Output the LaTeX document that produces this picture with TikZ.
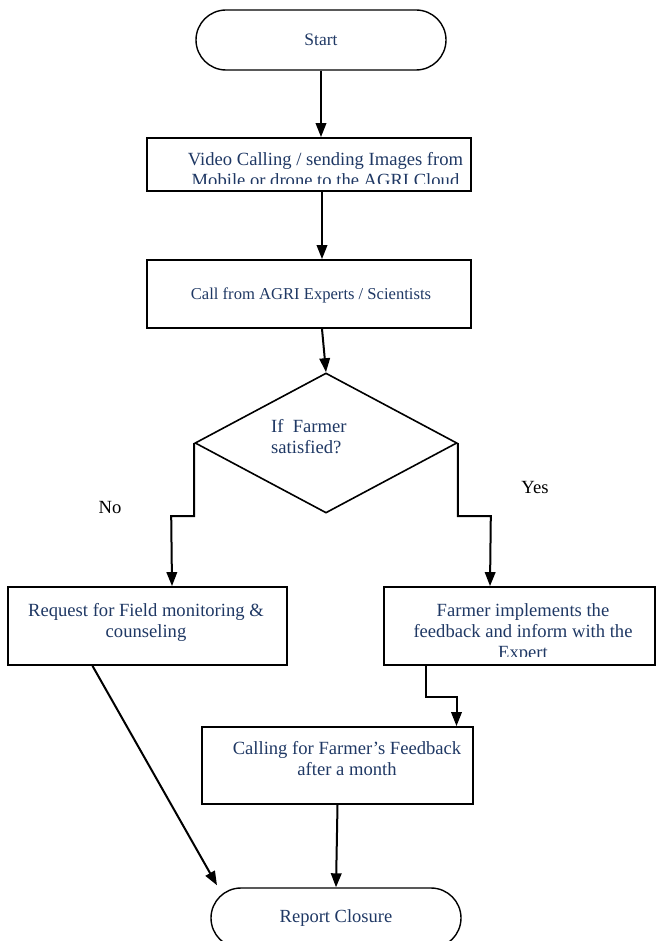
\documentclass[tikz,border=0pt]{standalone}
\usepackage{fontspec}
\setmainfont{Liberation Serif}
\usetikzlibrary{arrows.meta,shapes.geometric}
\definecolor{txt}{RGB}{31,56,100}
\begin{document}
\begin{tikzpicture}[x=1pt,y=-1pt,
  box/.style={draw,line width=1.8pt,inner sep=0pt},
  term/.style={draw,line width=1.4pt,rounded corners=30pt,inner sep=0pt,minimum width=250pt,minimum height=60pt,
    text=txt},
  lbl/.style={text=txt,font=\fontsize{18.6}{21}\selectfont,inner sep=0pt,align=center},
  arr/.style={line width=2pt,-{Triangle[width=10.5pt,length=14pt]}},
  plain/.style={text=black,font=\fontsize{18.6}{21}\selectfont,inner sep=0pt}]
\useasboundingbox (0,0) rectangle (657,941);
\clip (0,0) rectangle (657,941);
% terminals
\node[term,font=\fontsize{17.5}{21}\selectfont] (start) at (321,40) {Start};
\node[term,font=\fontsize{18.5}{21}\selectfont] (rep) at (336,918) {Report Closure};
% boxes
\node[box,minimum width=324pt,minimum height=53pt] (b2) at (309,164.5) {};
\node[box,minimum width=324pt,minimum height=68pt] (b3) at (309,294) {};
\node[box,minimum width=279pt,minimum height=78pt] (b4) at (147.5,626) {};
\node[box,minimum width=271pt,minimum height=78pt] (b5) at (519.5,626) {};
\node[box,minimum width=271pt,minimum height=77pt] (b6) at (337.5,765.5) {};
\node[diamond,draw,line width=1.6pt,inner sep=0pt,minimum width=262pt,minimum height=140pt] (dia) at (326,443) {};
% texts
\begin{scope}
\clip (147,138) rectangle (471,184);
\node[lbl,anchor=north] (t2) at (325.5,152.3) {Video Calling / sending Images from\\Mobile or drone to the AGRI Cloud};
\end{scope}
\node[lbl,anchor=base,font=\fontsize{16.6}{20}\selectfont] (t3) at (311,299) {Call from AGRI Experts / Scientists};
\node[lbl,anchor=north] (t4) at (146,603.3) {Request for Field monitoring \&\\counseling};
\begin{scope}
\clip (384,587) rectangle (655,656);
\node[lbl,anchor=north] (t5) at (523,603.3) {Farmer implements the\\feedback and inform with the\\Expert};
\end{scope}
\node[lbl,anchor=north] (t6) at (347,741.5) {Calling for Farmer’s Feedback\\after a month};
\node[lbl,align=left,anchor=north west] (td) at (271,419.3) {If~ Farmer\\satisfied?};
\node[plain] (no) at (110,507) {No};
\node[plain] (yes) at (535,487) {Yes};
% connectors
\draw[arr] (start.south) -- (start.south |- b2.north);
\draw[arr] ([xshift=13pt]b2.south) -- ([xshift=13pt]b2.south |- b3.north);
\draw[arr] ([xshift=13pt]b3.south) -- (dia.north);
\draw[arr] (dia.west) -- ++(0,73) -- ++(-23,0) -- ([xshift=24.5pt]b4.north);
\draw[arr] (dia.east) -- ++(0,73) -- ++(33,0) -- ([xshift=-29.5pt]b5.north);
\draw[arr] ([xshift=-93.5pt]b5.south) -- ++(0,31) -- ++(30.5,0) -- ([xshift=119pt]b6.north);
\draw[arr] (b6.south) -- (rep.north);
\draw[arr] ([xshift=-55pt]b4.south) -- ([xshift=-119pt,yshift=2pt]rep.north);
\end{tikzpicture}
\end{document}
